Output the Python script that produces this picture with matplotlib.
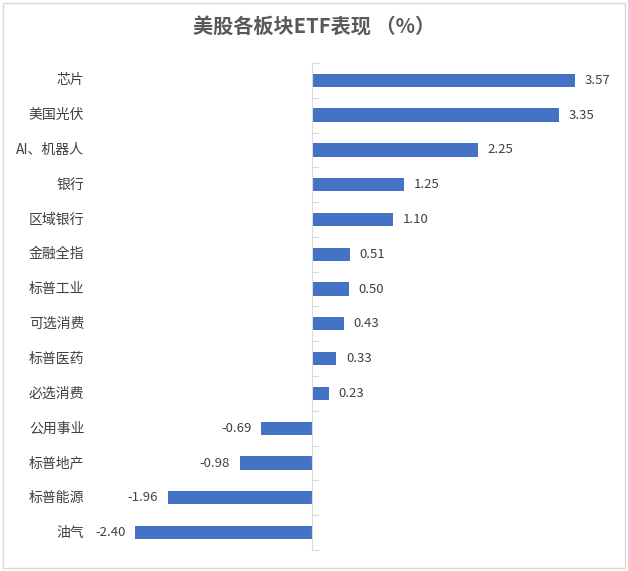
import numpy as np
import matplotlib.pyplot as plt
import matplotlib.transforms as mtransforms
from matplotlib.patches import Rectangle

plt.rcParams['font.family'] = ['Noto Sans CJK SC', 'DejaVu Sans']

categories = ['芯片', '美国光伏', 'AI、机器人', '银行', '区域银行', '金融全指', '标普工业',
              '可选消费', '标普医药', '必选消费', '公用事业', '标普地产', '标普能源', '油气']
values = [3.57, 3.35, 2.25, 1.25, 1.10, 0.51, 0.50, 0.43, 0.33, 0.23, -0.69, -0.98, -1.96, -2.40]

bar_color = '#4472C4'
grid_gray = '#D9D9D9'

fig = plt.figure(figsize=(6.28, 5.71), dpi=100)
ax = fig.add_axes([0.1917, 0.0368, 0.7745, 0.853])

y = np.arange(len(categories))
ax.barh(y, values, height=0.38, color=bar_color)

ax.set_xlim(-2.6, 4.0)
ax.set_ylim(len(categories) - 0.5, -0.5)

# 零轴
for s in ['top', 'bottom', 'left']:
    ax.spines[s].set_visible(False)
ax.spines['right'].set_position(('data', 0))
ax.spines['right'].set_color(grid_gray)
ax.yaxis.set_ticks_position('right')
ax.set_yticks(np.arange(-0.5, len(categories), 1.0))
ax.set_yticklabels([])
ax.tick_params(axis='y', direction='out', length=5, color=grid_gray)
ax.set_xticks([])

# 类别标签
trans = mtransforms.blended_transform_factory(ax.transAxes, ax.transData)
for i, c in enumerate(categories):
    ax.text(-0.074, i, c, transform=trans, ha='right', va='center',
            fontsize=10, color='#404040')

# 数值标签
for i, v in enumerate(values):
    if v >= 0:
        ax.text(v + 0.13, i, f'{v:.2f}', ha='left', va='center', fontsize=9.5, color='#404040')
    else:
        ax.text(v - 0.13, i, f'{v:.2f}', ha='right', va='center', fontsize=9.5, color='#404040')

fig.text(0.5, 0.953, '美股各板块ETF表现 （%）', ha='center', va='center',
         fontsize=14.5, fontweight='bold', color='#595959')

fig.patches.append(Rectangle((0.005, 0.006), 0.99, 0.988, transform=fig.transFigure,
                             fill=False, edgecolor=grid_gray, linewidth=1))

fig.savefig('out.png', dpi=100)
